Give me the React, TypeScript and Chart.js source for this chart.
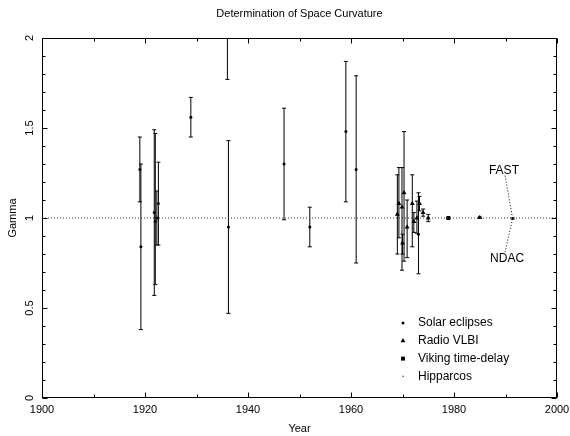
import { useEffect, useRef } from 'react';
import { Chart, registerables } from 'chart.js';
import { drawPoint } from 'chart.js/helpers';

Chart.register(...registerables);

// ---------- data ----------
const eclipseYear = [1919.0, 1919.2, 1921.8, 1922.0, 1922.3, 1922.6, 1928.9, 1936.0, 1936.2, 1947.0, 1952.0, 1959.0, 1961.0, 1973.1];
const eclipseGamma = [1.27, 0.84, 1.03, 0.98, 1.0, 1.08, 1.56, 2.2, 0.95, 1.3, 0.95, 1.48, 1.27, 0.91];
const eclipseLow = [1.09, 0.38, 0.57, 0.63, 0.85, 0.85, 1.45, 1.77, 0.47, 0.99, 0.84, 1.09, 0.75, 0.69];
const eclipseHigh = [1.45, 1.3, 1.49, 1.47, 1.15, 1.31, 1.67, 2.63, 1.43, 1.61, 1.06, 1.87, 1.79, 1.14];

const vlbiYear = [1969.0, 1969.3, 1969.9, 1970.0, 1970.3, 1970.9, 1971.9, 1972.2, 1972.8, 1973.3, 1974.0, 1975.0, 1985.0];
const vlbiGamma = [1.02, 1.08, 1.06, 0.86, 1.14, 0.95, 1.08, 0.98, 1.0, 1.08, 1.03, 1.0, 1.002];
const vlbiLow = [0.8, 0.89, 0.71, 0.8, 0.76, 0.78, 0.84, 0.92, 0.915, 1.04, 1.01, 0.98, 0.998];
const vlbiHigh = [1.24, 1.28, 1.28, 0.91, 1.48, 1.1, 1.24, 1.03, 1.094, 1.12, 1.05, 1.02, 1.006];

const vikingYear = [1978.9];
const vikingGamma = [1.0];
const vikingLow = [0.998];
const vikingHigh = [1.002];

const hipYear = [1991.4];
const hipGamma = [0.997];
const hipLow = [0.993];
const hipHigh = [1.001];

const refYear = [1900, 2000];
const refGamma = [1, 1];

const noteText = ['FAST', 'NDAC'];
const noteYear = [1989.7, 1990.3];
const noteGamma = [1.262, 0.772];
const pointerYear = [1989.9, 1989.9];
const pointerGamma = [1.235, 0.81];

const xTickValues = [1900, 1920, 1940, 1960, 1980, 2000];
const yTickValues = [0, 0.5, 1, 1.5, 2];
const xMinorStep = 10;
const yMinorStep = 0.1;

const legendOrder = ['Solar eclipses', 'Radio VLBI', 'Viking time-delay', 'Hipparcos'];

// ---------- helpers ----------
const FAMILY = "'Liberation Sans', Arial, sans-serif";
const pts = (xs: number[], ys: number[]) => xs.map((x, i) => ({ x, y: ys[i] }));
const bars = (xs: number[], lo: number[], hi: number[]) => xs.map((x, i) => ({ x, y: [lo[i], hi[i]] }));

const framePlugin = {
  id: 'frameAndNotes',
  afterDraw(chart: any) {
    const { ctx, chartArea: a, scales } = chart;
    const xs = scales.x;
    const ys = scales.y;
    ctx.save();
    ctx.strokeStyle = '#000';
    ctx.lineWidth = 1;
    const L = Math.round(a.left) + 0.5;
    const R = Math.round(a.right) - 0.5;
    const T = Math.round(a.top) + 0.5;
    const B = Math.round(a.bottom) - 0.5;
    ctx.strokeRect(L, T, R - L, B - T);
    ctx.beginPath();
    const xmin = xTickValues[0];
    const xmax = xTickValues[xTickValues.length - 1];
    const xMajor = xTickValues[1] - xTickValues[0];
    for (let i = 0; i <= Math.round((xmax - xmin) / xMinorStep); i++) {
      const v = xmin + i * xMinorStep;
      const px = Math.round(xs.getPixelForValue(v)) + 0.5;
      const len = Math.abs((v - xmin) % xMajor) < 1e-6 ? 5 : 3;
      ctx.moveTo(px, B);
      ctx.lineTo(px, B - len);
      ctx.moveTo(px, T);
      ctx.lineTo(px, T + len);
    }
    const ymin = yTickValues[0];
    const ymax = yTickValues[yTickValues.length - 1];
    const yMajor = yTickValues[1] - yTickValues[0];
    const perMajor = Math.round(yMajor / yMinorStep);
    for (let i = 0; i <= Math.round((ymax - ymin) / yMinorStep); i++) {
      const v = ymin + i * yMinorStep;
      const py = Math.round(ys.getPixelForValue(v)) + 0.5;
      const len = i % perMajor === 0 ? 5 : 3;
      ctx.moveTo(L, py);
      ctx.lineTo(L + len, py);
      ctx.moveTo(R, py);
      ctx.lineTo(R - len, py);
    }
    ctx.stroke();

    // legend
    ctx.font = `12px ${FAMILY}`;
    ctx.textBaseline = 'middle';
    ctx.textAlign = 'left';
    const mx = a.right - 154;
    const tx = a.right - 139;
    legendOrder.forEach((label, i) => {
      const ds = chart.data.datasets.find((d: any) => d.label === label);
      const y = a.bottom - 75 + i * 17.8;
      ctx.fillStyle = ds.backgroundColor;
      ctx.strokeStyle = ds.backgroundColor;
      drawPoint(ctx, { pointStyle: ds.pointStyle, radius: ds.pointRadius, rotation: 0, borderWidth: 0 }, mx, y);
      ctx.fillStyle = '#000';
      ctx.fillText(label, tx, y);
    });

    // annotations
    ctx.textAlign = 'center';
    noteText.forEach((t, i) => {
      ctx.fillText(t, xs.getPixelForValue(noteYear[i]), ys.getPixelForValue(noteGamma[i]));
    });
    ctx.restore();
  },
};

export default function App() {
  const ref = useRef<HTMLCanvasElement>(null);
  useEffect(() => {
    const font = { family: FAMILY, size: 11 };
    const allBars = [
      ...bars(eclipseYear, eclipseLow, eclipseHigh),
      ...bars(vlbiYear, vlbiLow, vlbiHigh),
      ...bars(vikingYear, vikingLow, vikingHigh),
      ...bars(hipYear, hipLow, hipHigh),
    ];
    const allYears = [...eclipseYear, ...vlbiYear, ...vikingYear, ...hipYear];
    const allLow = [...eclipseLow, ...vlbiLow, ...vikingLow, ...hipLow];
    const allHigh = [...eclipseHigh, ...vlbiHigh, ...vikingHigh, ...hipHigh];
    const caps = [...pts(allYears, allLow), ...pts(allYears, allHigh)];

    const chart = new Chart(ref.current as HTMLCanvasElement, {
      type: 'bar',
      data: {
        datasets: [
          {
            type: 'line',
            label: 'gamma=1',
            data: pts(refYear, refGamma),
            borderColor: '#333',
            borderWidth: 1,
            borderDash: [1, 2],
            pointRadius: 0,
            clip: 0,
          } as any,
          ...pointerYear.map((py, i) => ({
            type: 'line',
            label: 'pointer ' + noteText[i],
            data: pts([py, hipYear[0]], [pointerGamma[i], hipGamma[0]]),
            borderColor: '#000',
            borderWidth: 1,
            borderDash: [1, 2],
            pointRadius: 0,
            clip: 0,
          })) as any,
          {
            type: 'bar',
            label: 'error bars',
            data: allBars,
            backgroundColor: '#000',
            borderWidth: 0,
            barThickness: 1,
            inflateAmount: 0,
            grouped: false,
            clip: 0,
          } as any,
          {
            type: 'scatter',
            label: 'caps',
            data: caps,
            pointStyle: 'line',
            pointRadius: 2,
            borderColor: '#000',
            borderWidth: 1,
            clip: 0,
          } as any,
          {
            type: 'scatter',
            label: 'Solar eclipses',
            data: pts(eclipseYear, eclipseGamma),
            pointStyle: 'circle',
            pointRadius: 1.5,
            backgroundColor: '#000',
            borderWidth: 0,
            clip: 0,
          } as any,
          {
            type: 'scatter',
            label: 'Radio VLBI',
            data: pts(vlbiYear, vlbiGamma),
            pointStyle: 'triangle',
            pointRadius: 2.8,
            backgroundColor: '#000',
            borderWidth: 0,
            clip: 0,
          } as any,
          {
            type: 'scatter',
            label: 'Viking time-delay',
            data: pts(vikingYear, vikingGamma),
            pointStyle: 'rect',
            pointRadius: 2.8,
            backgroundColor: '#000',
            borderWidth: 0,
            clip: 0,
          } as any,
          {
            type: 'scatter',
            label: 'Hipparcos',
            data: pts(hipYear, hipGamma),
            pointStyle: 'circle',
            pointRadius: 0.8,
            backgroundColor: '#666',
            borderWidth: 0,
            clip: 0,
          } as any,
        ],
      },
      options: {
        animation: false,
        responsive: false,
        devicePixelRatio: 1,
        events: [],
        layout: { padding: { left: 0, right: 13, top: 0, bottom: 0 } },
        plugins: {
          legend: { display: false },
          tooltip: { enabled: false },
          title: {
            display: true,
            text: 'Determination of Space Curvature',
            color: '#000',
            font: { family: FAMILY, size: 11, weight: 'normal' },
            padding: { top: 7, bottom: 17.8 },
            fullSize: false,
          },
        },
        scales: {
          x: {
            type: 'linear',
            min: xTickValues[0],
            max: xTickValues[xTickValues.length - 1],
            offset: false,
            grid: { display: false, drawTicks: false },
            border: { display: false },
            ticks: {
              font,
              color: '#000',
              padding: 5,
              maxRotation: 0,
              autoSkip: false,
              callback: (v: any) => String(v),
            },
            afterBuildTicks: (s: any) => {
              s.ticks = xTickValues.map((value) => ({ value }));
            },
            afterFit: (s: any) => {
              s.height = 38;
              s.paddingLeft = 0;
              s.paddingRight = 0;
            },
            title: { display: true, text: 'Year', color: '#000', font, padding: { top: 0, bottom: 0 } },
          },
          y: {
            type: 'linear',
            min: yTickValues[0],
            max: yTickValues[yTickValues.length - 1],
            grid: { display: false, drawTicks: false },
            border: { display: false },
            ticks: {
              font,
              color: '#000',
              padding: 4,
              minRotation: 90,
              maxRotation: 90,
              crossAlign: 'center',
              autoSkip: false,
              callback: (v: any) => String(v),
            },
            afterBuildTicks: (s: any) => {
              s.ticks = yTickValues.map((value) => ({ value }));
            },
            afterFit: (s: any) => {
              s.width = 42;
              s.paddingTop = 0;
              s.paddingBottom = 0;
            },
            title: { display: true, text: 'Gamma', color: '#000', font, padding: { top: 6, bottom: 0 } },
          },
        },
      } as any,
      plugins: [framePlugin],
    });
    return () => chart.destroy();
  }, []);
  return (
    <div style={{ position: 'fixed', left: 0, top: 0, width: 570, height: 436 }}>
      <canvas ref={ref} width={570} height={436} />
    </div>
  );
}
